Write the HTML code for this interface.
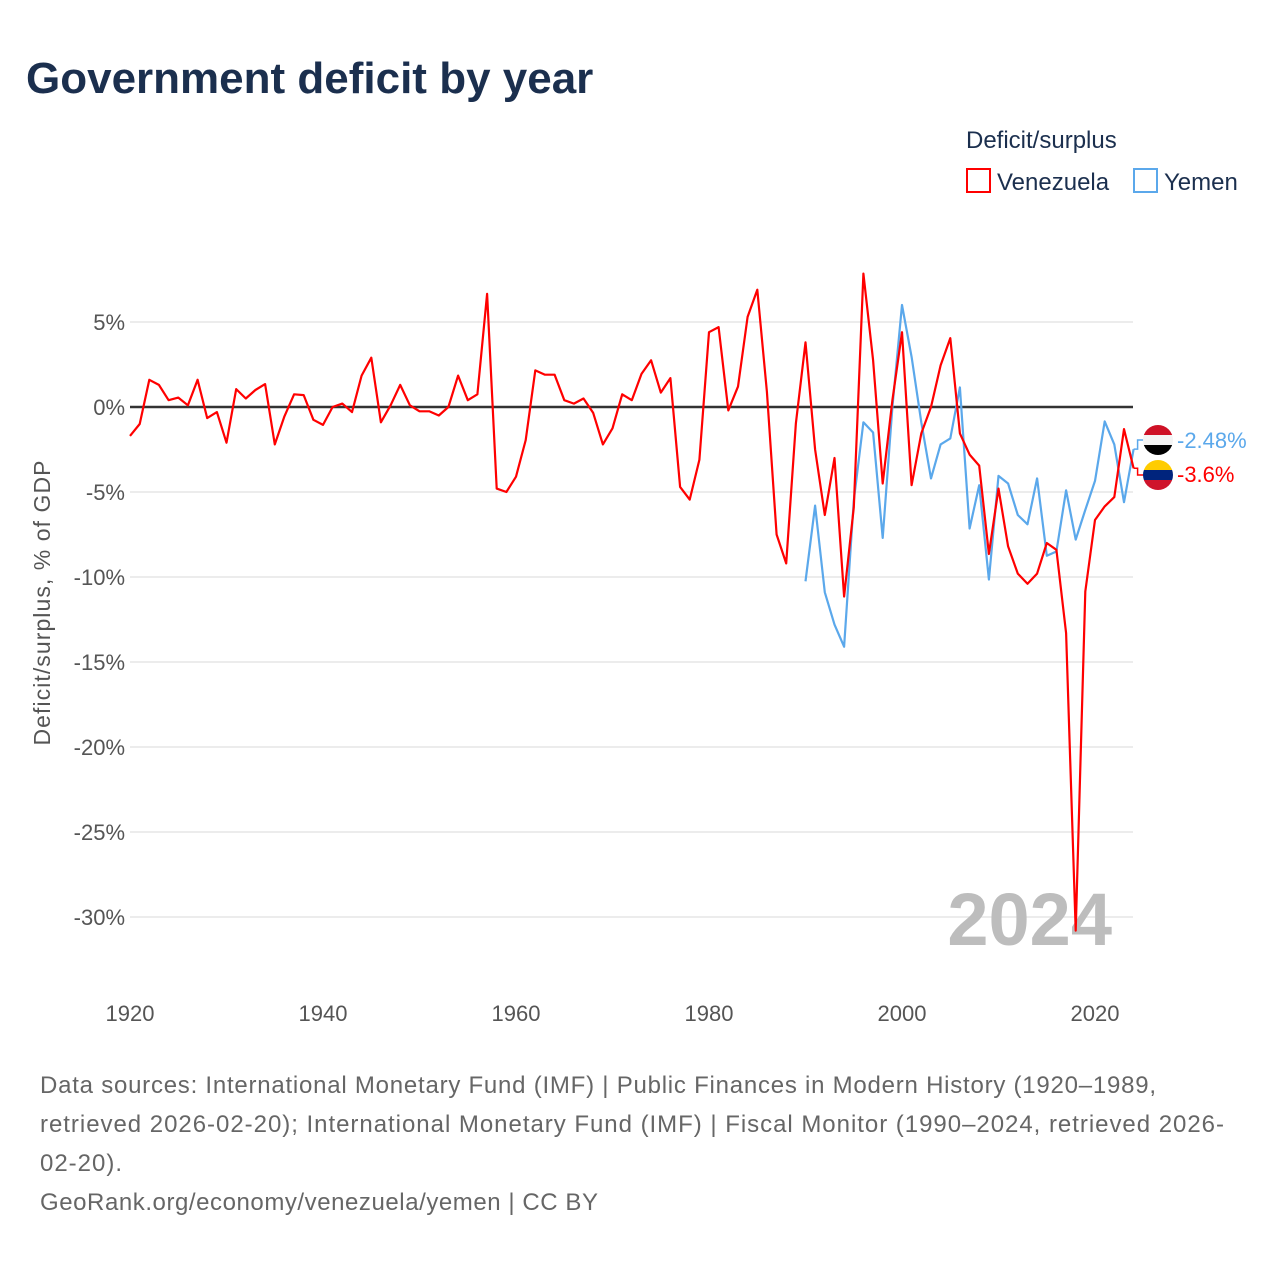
<!DOCTYPE html>
<html><head><meta charset="utf-8"><style>
body{margin:0;background:#fff;font-family:"Liberation Sans",sans-serif;}
#wrap{position:relative;width:1280px;height:1280px;overflow:hidden;}
</style></head><body>
<div id="wrap">
<svg id="chart" width="1280" height="1280" xmlns="http://www.w3.org/2000/svg">
<text x="26" y="93" font-size="44" font-weight="bold" fill="#1b2f4e">Government deficit by year</text>
<text x="966" y="148" font-size="24" fill="#1b2f4e">Deficit/surplus</text>
<g><rect x="967" y="169" width="23" height="23" fill="none" stroke="#ff0000" stroke-width="2"/><text x="997" y="190" font-size="24" fill="#1b2f4e">Venezuela</text></g>
<g><rect x="1134" y="169" width="23" height="23" fill="none" stroke="#5ba8eb" stroke-width="2"/><text x="1164" y="190" font-size="24" fill="#1b2f4e">Yemen</text></g>
<g id="grid"></g>
<g id="yticks"></g>
<g id="xticks"></g>
<text x="50" y="603" font-size="23" fill="#555" transform="rotate(-90 50 603)" text-anchor="middle" textLength="285" lengthAdjust="spacing">Deficit/surplus, % of GDP</text>
<text x="1112" y="945" font-size="74" font-weight="bold" fill="#bdbdbd" text-anchor="end">2024</text>
<g id="series"></g>
<g id="labels"></g>
<text x="40" y="1093" font-size="24" fill="#666" textLength="1116" lengthAdjust="spacing">Data sources: International Monetary Fund (IMF) | Public Finances in Modern History (1920–1989,</text>
<text x="40" y="1132" font-size="24" fill="#666" textLength="1184" lengthAdjust="spacing">retrieved 2026-02-20); International Monetary Fund (IMF) | Fiscal Monitor (1990–2024, retrieved 2026-</text>
<text x="40" y="1171" font-size="24" fill="#666" textLength="82" lengthAdjust="spacing">02-20).</text>
<text x="40" y="1210" font-size="24" fill="#666" textLength="558" lengthAdjust="spacing">GeoRank.org/economy/venezuela/yemen | CC BY</text>
</svg>
</div>
<script>
const yTicks=[5,0,-5,-10,-15,-20,-25,-30];
const xTicks=[1920,1940,1960,1980,2000,2020];
const venStart=1920;
const venValues=[-1.7,-1.0,1.6,1.3,0.4,0.55,0.1,1.6,-0.65,-0.3,-2.1,1.05,0.5,1.0,1.35,-2.2,-0.55,0.75,0.7,-0.75,-1.05,0.0,0.2,-0.3,1.85,2.9,-0.9,0.1,1.3,0.1,-0.25,-0.25,-0.5,0.0,1.85,0.4,0.75,6.65,-4.8,-5.0,-4.1,-1.95,2.15,1.9,1.9,0.4,0.2,0.5,-0.35,-2.2,-1.25,0.75,0.4,1.95,2.75,0.85,1.7,-4.7,-5.45,-3.1,4.4,4.7,-0.2,1.2,5.3,6.9,0.9,-7.5,-9.2,-0.95,3.8,-2.5,-6.35,-3.0,-11.15,-5.9,7.85,2.75,-4.5,0.4,4.4,-4.6,-1.55,0.0,2.45,4.05,-1.55,-2.8,-3.45,-8.65,-4.8,-8.2,-9.8,-10.4,-9.8,-8.0,-8.4,-13.3,-30.8,-10.85,-6.65,-5.85,-5.3,-1.3,-3.6];
const yemStart=1990;
const yemValues=[-10.25,-5.8,-10.9,-12.8,-14.1,-5.5,-0.9,-1.5,-7.7,0.0,6.0,2.95,-0.9,-4.2,-2.2,-1.85,1.15,-7.15,-4.6,-10.15,-4.05,-4.5,-6.35,-6.9,-4.2,-8.75,-8.5,-4.9,-7.8,-6.05,-4.35,-0.85,-2.2,-5.6,-2.48];
const NS='http://www.w3.org/2000/svg';
const X=yr=>130+(yr-1920)*9.65;
const Y=v=>407-v*17;
function mk(t,a,p){const e=document.createElementNS(NS,t);for(const k in a)e.setAttribute(k,a[k]);p.appendChild(e);return e;}
const grid=document.getElementById('grid'),yt=document.getElementById('yticks'),xt=document.getElementById('xticks');
yTicks.forEach(v=>{
  const l=mk('line',{x1:130,x2:1133,y1:Y(v),y2:Y(v),stroke:v===0?'#333':'#e6e6e6','stroke-width':v===0?2.5:1.5},grid);
  
  
  const t=mk('text',{x:125,y:Y(v)+8,'font-size':22,fill:'#555','text-anchor':'end'},yt);
  t.textContent=v+'%';
  
  
});
xTicks.forEach(yr=>{
  const t=mk('text',{x:X(yr),y:1021,'font-size':22,fill:'#555','text-anchor':'middle'},xt);
  t.textContent=yr;
  
  
});
const sg=document.getElementById('series');
function line(start,vals,color,name){
  const pts=vals.map((v,i)=>X(start+i).toFixed(1)+','+Y(v).toFixed(1)).join(' ');
  const p=mk('polyline',{points:pts,fill:'none',stroke:color,'stroke-width':2.2,'stroke-linejoin':'round'},sg);
  
  
}
line(yemStart,yemValues,'#5ba8eb','line-yemen');
line(venStart,venValues,'#ff0000','line-venezuela');
const lg=document.getElementById('labels');
const yemLast=yemValues[yemValues.length-1],venLast=venValues[venValues.length-1];
const ex=X(2024);
const c1=mk('polyline',{points:`${ex},${Y(yemLast)} ${ex+4},${Y(yemLast)} ${ex+4},440 ${ex+10},440`,fill:'none',stroke:'#5ba8eb','stroke-width':1.5},lg);


const c2=mk('polyline',{points:`${ex},${Y(venLast)} ${ex+4},${Y(venLast)} ${ex+4},475 ${ex+10},475`,fill:'none',stroke:'#ff0000','stroke-width':1.5},lg);


const defs=mk('defs',{},lg);
const cp1=mk('clipPath',{id:'cf1'},defs);mk('circle',{cx:1158,cy:440,r:15},cp1);
const cp2=mk('clipPath',{id:'cf2'},defs);mk('circle',{cx:1158,cy:475,r:15},cp2);
const f1=mk('g',{'clip-path':'url(#cf1)'},lg);


mk('rect',{x:1143,y:425,width:30,height:10,fill:'#ce1126'},f1);
mk('rect',{x:1143,y:435,width:30,height:10,fill:'#f4f4f4'},f1);
mk('rect',{x:1143,y:445,width:30,height:10,fill:'#000'},f1);
const f2=mk('g',{'clip-path':'url(#cf2)'},lg);


mk('rect',{x:1143,y:460,width:30,height:10,fill:'#ffcc00'},f2);
mk('rect',{x:1143,y:470,width:30,height:10,fill:'#00247d'},f2);
mk('rect',{x:1143,y:480,width:30,height:10,fill:'#cf142b'},f2);
const t1=mk('text',{x:1177,y:448,'font-size':22,fill:'#5ba8eb'},lg);
t1.textContent=yemLast+'%';


const t2=mk('text',{x:1177,y:482,'font-size':22,fill:'#ff0000'},lg);
t2.textContent=venLast+'%';


</script>
</body></html>
